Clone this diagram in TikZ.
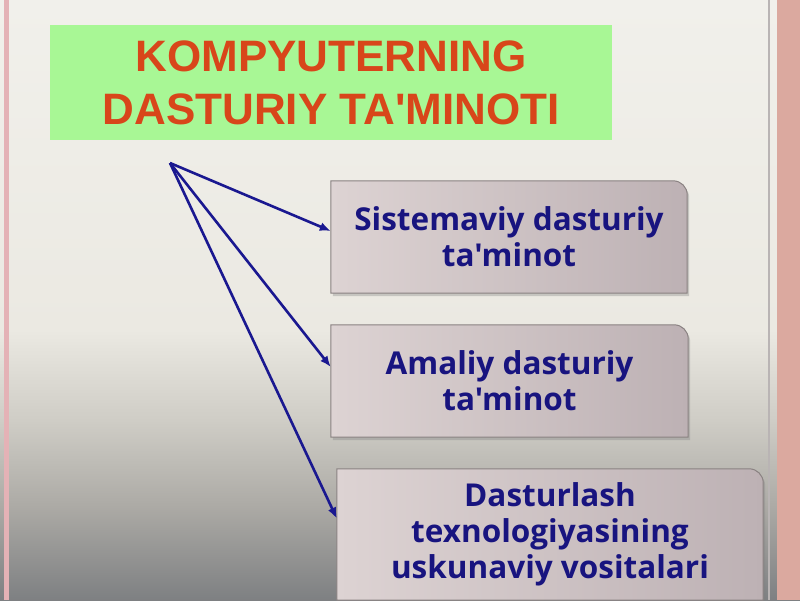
\documentclass[tikz,border=0pt]{standalone}
\usepackage{fontspec}
\setmainfont{Open Sans}[Ligatures=TeXOff]
\newfontfamily\ttlfont{Liberation Sans}[Ligatures=TeXOff]
\usetikzlibrary{arrows.meta,shadows,backgrounds}
\definecolor{ttlgreen}{HTML}{A8F795}
\definecolor{ttlred}{HTML}{D8461A}
\definecolor{navy}{HTML}{18147F}
\definecolor{arwblue}{HTML}{1A1890}
\definecolor{boxL}{HTML}{DDD3D3}
\definecolor{boxM}{HTML}{E2DCDA}
\definecolor{boxR}{HTML}{BDB1B4}
\definecolor{boxedge}{HTML}{8A8282}
\definecolor{pinkedge}{HTML}{DBA99F}
\definecolor{pinkline}{HTML}{E4B2B6}
\definecolor{bgtop}{HTML}{F1F0EB}
\definecolor{bgmid}{HTML}{EBE9E2}
\definecolor{bglow}{HTML}{CFCDC6}
\definecolor{bgdark}{HTML}{ADABA6}
\definecolor{bgbot}{HTML}{7E8082}
\pgfdeclareverticalshading{slide}{100bp}{color(0bp)=(bgbot); color(25bp)=(bgbot); color(33bp)=(bgdark); color(40bp)=(bglow); color(47.5bp)=(bgmid); color(75bp)=(bgtop); color(100bp)=(bgtop)}
\begin{document}
\begin{tikzpicture}[x=1pt,y=1pt,
  tmbox/.style={minimum height=112pt,align=center,text=navy,
    font=\bfseries\fontsize{31.5}{36}\selectfont},
  arw/.style={draw=arwblue,line width=2.6pt,-{Latex[length=11pt,width=9pt]}}]
\useasboundingbox (0,0) rectangle (800,-600);
\clip (0,0) rectangle (800,-600);
\node (ttl) [fill=ttlgreen,minimum width=562pt,minimum height=115pt,align=center,text=ttlred,
  font=\ttlfont\bfseries\fontsize{44}{53}\selectfont] at (331,-82.5) {KOMPYUTERNING\\DASTURIY TA'MINOTI};
\node (sis) [tmbox,minimum width=356pt] at (509,-237) {Sistemaviy dasturiy\\ta'minot};
\node (ama) [tmbox,minimum width=357pt] at (509.5,-381) {Amaliy dasturiy\\ta'minot};
\node (das) [tmbox,minimum width=426pt,minimum height=131pt] at (550,-534.5) {Dasturlash\\texnologiyasining\\uskunaviy vositalari};
\coordinate (src) at (170,-163);
\foreach \n/\dy in {sis/6,ama/14,das/16}
  \draw[arw] (src) -- ([yshift=\dy pt]\n.west);
\begin{scope}[on background layer]
\shade[shading=slide] (0,0) rectangle (800,-600);
\fill[pinkedge] (777,0) rectangle (800,-600);
\draw[boxedge!60,line width=1.2pt] (769,0) -- (769,-600);
\fill[pinkline] (4,0) rectangle (9,-600);
\foreach \n in {sis,ama,das}
  \draw[boxedge,line width=1pt,left color=boxL,middle color=boxM,right color=boxR,
    drop shadow={shadow xshift=2pt,shadow yshift=-3pt,opacity=.35}]
    (\n.south west) -- (\n.north west) -- ([xshift=-14pt]\n.north east) arc (90:0:14pt) -- (\n.south east) -- cycle;
\end{scope}
\end{tikzpicture}
\end{document}
